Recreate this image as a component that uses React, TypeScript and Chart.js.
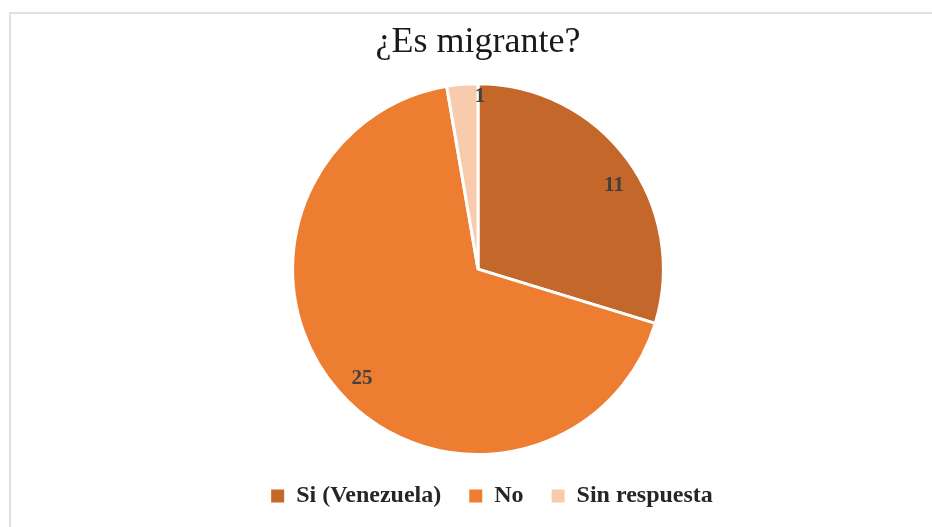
import { useEffect, useRef } from "react";
import { Chart, registerables } from "chart.js";

Chart.register(...registerables);

const categories = ["Si (Venezuela)", "No", "Sin respuesta"];
const values = [11, 25, 1];
const colors = ["#C4672B", "#ED7D31", "#F8CBAD"];
const chartTitle = "¿Es migrante?";

const SERIF = "'Liberation Serif', 'Times New Roman', serif";

const sliceLabels = {
  id: "sliceLabels",
  afterDatasetsDraw(chart: any, _args: any, opts: any) {
    const ctx = chart.ctx;
    const meta = chart.getDatasetMeta(0);
    const data = chart.data.datasets[0].data as number[];
    const shifts: number[] = opts.angleShiftDeg || [];
    ctx.save();
    ctx.font = `bold 21px ${SERIF}`;
    ctx.fillStyle = "#404040";
    ctx.textAlign = "center";
    ctx.textBaseline = "middle";
    meta.data.forEach((arc: any, i: number) => {
      const { x, y, startAngle, endAngle, outerRadius } = arc.getProps(
        ["x", "y", "startAngle", "endAngle", "outerRadius"],
        true
      );
      const span = endAngle - startAngle;
      let a: number;
      let r: number;
      if (span < 0.3) {
        a = endAngle + 0.012;
        r = outerRadius * 0.93;
      } else {
        a = (startAngle + endAngle) / 2 + ((shifts[i] || 0) * Math.PI) / 180;
        r = outerRadius * 0.86;
      }
      ctx.fillText(String(data[i]), x + Math.cos(a) * r, y + Math.sin(a) * r);
    });
    ctx.restore();
  },
};

const legendShift = {
  id: "legendShift",
  afterLayout(chart: any, _args: any, opts: any) {
    const lg = chart.legend;
    if (!lg) return;
    const dx = opts.dx || 0;
    lg.left += dx;
    lg.right += dx;
  },
};

export default function App() {
  const ref = useRef<HTMLCanvasElement>(null);

  useEffect(() => {
    if (!ref.current) return;
    const chart = new Chart(ref.current, {
      type: "pie",
      data: {
        labels: categories,
        datasets: [
          {
            data: values,
            backgroundColor: colors,
            borderColor: "#ffffff",
            borderWidth: 3,
          },
        ],
      },
      options: {
        responsive: false,
        animation: false,
        devicePixelRatio: 1,
        layout: { padding: { left: 24, right: 0, top: 0, bottom: 0 } },
        plugins: {
          title: {
            display: true,
            text: chartTitle,
            color: "#1a1a1a",
            font: { family: SERIF, size: 36, weight: "normal" },
            padding: { top: 21, bottom: 18 },
          },
          legend: {
            display: true,
            position: "bottom",
            labels: {
              color: "#262626",
              font: { family: SERIF, size: 24, weight: "bold" },
              boxWidth: 13,
              boxHeight: 13,
              padding: 28,
              generateLabels(c: any) {
                const items = Chart.overrides.pie.plugins.legend.labels.generateLabels(c);
                return items.map((it: any) => ({
                  ...it,
                  lineWidth: 0,
                  strokeStyle: "rgba(0,0,0,0)",
                }));
              },
            },
          },
          tooltip: { enabled: false },
          // @ts-ignore
          sliceLabels: { angleShiftDeg: [5, -2, 0] },
          // @ts-ignore
          legendShift: { dx: 14 },
        },
      },
      plugins: [sliceLabels, legendShift],
    });
    return () => chart.destroy();
  }, []);

  return (
    <div
      style={{
        position: "absolute",
        left: 0,
        top: 0,
        width: 932,
        height: 527,
        overflow: "hidden",
        background: "#ffffff",
      }}
    >
      <div
        style={{
          position: "absolute",
          left: 9,
          top: 12,
          right: -4,
          bottom: -4,
          borderLeft: "2px solid #e0e0e0",
          borderTop: "2px solid #e0e0e0",
        }}
      />
      <canvas
        ref={ref}
        width={932}
        height={518}
        style={{ position: "absolute", left: 0, top: 0 }}
      />
    </div>
  );
}
